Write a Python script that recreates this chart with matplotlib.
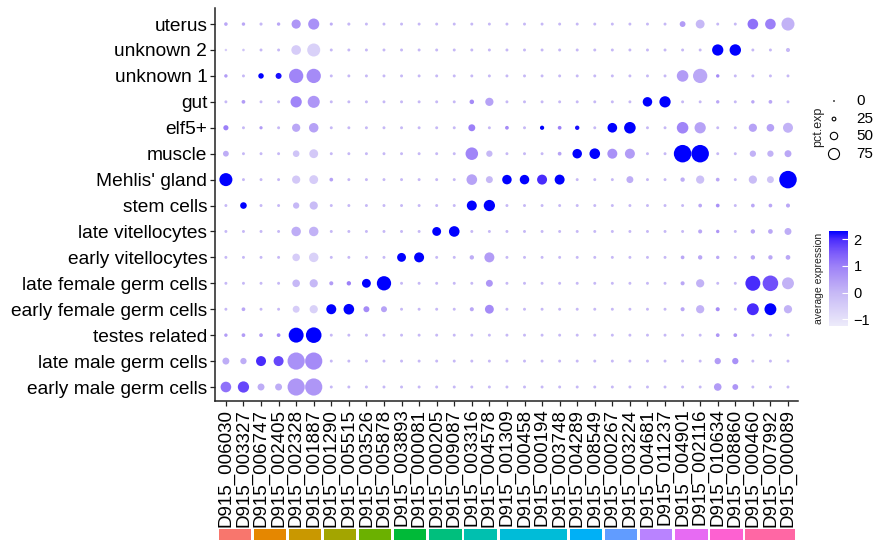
import matplotlib
matplotlib.use("Agg")
import matplotlib.pyplot as plt
import numpy as np
from matplotlib.colors import LinearSegmentedColormap, Normalize
from matplotlib.patches import Rectangle
from matplotlib.cm import ScalarMappable

plt.rcParams['font.family'] = ['Liberation Sans', 'DejaVu Sans']

genes = ["D915_006030", "D915_003327", "D915_006747", "D915_002405", "D915_002328",
         "D915_001887", "D915_001290", "D915_005515", "D915_003526", "D915_005878",
         "D915_003893", "D915_000081", "D915_000205", "D915_009087", "D915_003316",
         "D915_004578", "D915_001309", "D915_000458", "D915_000194", "D915_003748",
         "D915_004289", "D915_008549", "D915_000267", "D915_003224", "D915_004681",
         "D915_011237", "D915_004901", "D915_002116", "D915_010634", "D915_008860",
         "D915_000460", "D915_007992", "D915_000089"]

# bottom -> top
cell_types = ["early male germ cells", "late male germ cells", "testes related",
              "early female germ cells", "late female germ cells", "early vitellocytes",
              "late vitellocytes", "stem cells", "Mehlis' gland", "muscle", "elf5+",
              "gut", "unknown 1", "unknown 2", "uterus"]

# number of marker genes per cell type (same order as cell_types)
group_sizes = [2, 2, 2, 2, 2, 2, 2, 2, 4, 2, 2, 2, 2, 2, 3]
group_colors = ["#F8766D", "#E58700", "#C99800", "#A3A500", "#6BB100", "#00BA38",
                "#00BF7D", "#00C0AF", "#00BCD8", "#00B0F6", "#619CFF", "#B983FF",
                "#E76BF3", "#FD61D1", "#FF67A4"]

# percent expressed, one list per cell type
em_pct = [57, 61, 34, 34, 98, 98, 9, 9, 9, 9, 9, 9, 9, 9, 9, 9, 9, 9, 9, 9, 9, 9, 9, 9, 9, 9, 9, 9, 38, 27, 9, 9, 9]
lm_pct = [34, 30, 53, 53, 98, 98, 9, 9, 9, 9, 9, 9, 9, 9, 9, 9, 9, 9, 9, 9, 9, 9, 9, 9, 9, 9, 9, 9, 30, 30, 9, 9, 9]
te_pct = [12, 14, 14, 14, 84, 88, 9, 9, 9, 9, 9, 9, 9, 9, 9, 9, 9, 9, 9, 9, 9, 9, 9, 9, 9, 9, 9, 9, 14, 14, 9, 9, 9]
ef_pct = [9, 14, 9, 9, 34, 42, 53, 57, 28, 28, 9, 9, 9, 9, 16, 46, 9, 9, 9, 9, 9, 9, 9, 9, 9, 9, 16, 42, 16, 9, 65, 65, 42]
lf_pct = [9, 9, 9, 9, 38, 42, 16, 18, 46, 80, 9, 9, 9, 9, 9, 34, 9, 9, 9, 9, 9, 9, 9, 9, 9, 9, 16, 42, 9, 9, 84, 88, 65]
ev_pct = [9, 9, 9, 9, 38, 50, 9, 9, 9, 9, 46, 53, 9, 9, 18, 53, 9, 9, 9, 9, 9, 9, 9, 9, 9, 9, 14, 18, 12, 9, 18, 18, 20]
lv_pct = [9, 9, 9, 9, 50, 50, 9, 9, 9, 9, 9, 9, 46, 57, 9, 9, 9, 9, 9, 9, 9, 9, 9, 9, 9, 9, 9, 16, 12, 9, 18, 20, 34]
st_pct = [9, 32, 9, 9, 30, 42, 9, 9, 9, 9, 9, 9, 9, 9, 53, 61, 9, 9, 9, 9, 9, 9, 9, 9, 9, 9, 9, 14, 14, 9, 14, 14, 16]
mg_pct = [72, 9, 9, 9, 42, 46, 14, 9, 9, 9, 9, 9, 9, 9, 57, 34, 50, 50, 53, 53, 9, 9, 9, 34, 9, 9, 18, 42, 14, 9, 42, 34, 100]
mu_pct = [27, 9, 9, 9, 32, 46, 9, 9, 9, 9, 9, 9, 9, 9, 69, 30, 9, 9, 9, 14, 50, 57, 53, 53, 9, 9, 100, 100, 9, 9, 30, 30, 34]
el_pct = [23, 9, 11, 9, 42, 50, 9, 9, 9, 9, 9, 9, 9, 9, 34, 9, 14, 9, 17, 14, 18, 9, 51, 63, 9, 9, 63, 61, 9, 9, 42, 38, 53]
gu_pct = [9, 14, 9, 9, 61, 66, 9, 9, 9, 9, 9, 9, 9, 9, 19, 42, 9, 9, 9, 9, 9, 9, 9, 9, 50, 61, 9, 9, 12, 9, 12, 14, 9]
u1_pct = [12, 9, 25, 28, 80, 80, 9, 9, 9, 9, 9, 9, 9, 9, 9, 9, 9, 9, 9, 9, 9, 9, 9, 9, 9, 9, 63, 80, 12, 9, 9, 9, 9]
u2_pct = [6, 7, 9, 9, 51, 72, 9, 9, 9, 9, 9, 9, 9, 9, 9, 9, 9, 9, 9, 9, 9, 9, 9, 9, 9, 9, 9, 9, 61, 62, 9, 9, 16]
ut_pct = [13, 12, 10, 12, 48, 60, 10, 10, 9, 9, 9, 9, 9, 9, 9, 9, 9, 9, 9, 9, 9, 9, 9, 9, 9, 9, 27, 46, 9, 9, 57, 57, 72]

# average (scaled) expression, one list per cell type
em_avg = [1.2, 1.7, 0.2, 0.2, 0.6, 0.6, 0, 0, 0, 0, 0, 0, 0, 0, 0, 0, 0, 0, 0, 0, 0, 0, 0, 0, 0, 0, 0, 0, 0.5, 0.6, 0, 0, 0]
lm_avg = [0.2, 0.2, 2.0, 1.7, 0.7, 0.8, 0, 0, 0, 0, 0, 0, 0, 0, 0, 0, 0, 0, 0, 0, 0, 0, 0, 0, 0, 0, 0, 0, 0.5, 0.7, 0, 0, 0]
te_avg = [0.5, 0.5, 0.5, 0.8, 2.3, 2.3, 0, 0, 0, 0, 0, 0, 0, 0, 0, 0, 0, 0, 0, 0, 0, 0, 0, 0, 0, 0, 0, 0, 0.6, 0.6, 0, 0, 0]
ef_avg = [0, 0.3, 0, 0, -0.5, -0.6, 2.3, 2.3, 0.8, 0.4, 0, 0, 0, 0, 0.3, 0.8, 0, 0, 0, 0, 0, 0, 0, 0, 0, 0, 0.3, 0.1, 0.8, 0, 2.0, 2.3, 0.1]
lf_avg = [0, 0, 0, 0, 0, 0, 0.5, 1.0, 2.3, 2.3, 0, 0, 0, 0, 0, 0.6, 0, 0, 0, 0, 0, 0, 0, 0, 0, 0, 0.3, 0.1, 0, 0, 2.0, 1.6, 0.1]
ev_avg = [0, 0, 0, 0, -0.5, -0.6, 0, 0, 0, 0, 2.3, 2.3, 0, 0, 0.2, 0.5, 0, 0, 0, 0, 0, 0, 0, 0, 0, 0, 0.3, 0.3, 0.3, 0, 0.3, 0.3, 0.3]
lv_avg = [0, 0, 0, 0, 0.2, 0.1, 0, 0, 0, 0, 0, 0, 2.3, 2.3, 0, 0, 0, 0, 0, 0, 0, 0, 0, 0, 0, 0, 0, 0.3, 0.6, 0, 0.3, 0.3, 0.2]
st_avg = [0, 2.3, 0, 0, 0, -0.1, 0, 0, 0, 0, 0, 0, 0, 0, 2.3, 2.3, 0, 0, 0, 0, 0, 0, 0, 0, 0, 0, 0, 0.3, 0.7, 0, 0.3, 0.3, 0.3]
mg_avg = [2.3, 0, 0, 0, -0.4, -0.5, 0.4, 0, 0, 0, 0, 0, 0, 0, 0.4, 0.0, 2.3, 2.3, 2.0, 2.3, 0, 0, 0, 0.2, 0, 0, 0.2, -0.2, 0.3, 0, -0.1, -0.3, 2.3]
mu_avg = [0.2, 0, 0, 0, -0.3, -0.4, 0, 0, 0, 0, 0, 0, 0, 0, 0.9, 0.0, 0, 0, 0, 0.4, 2.3, 2.3, 0.7, 0.5, 0, 0, 2.3, 2.3, 0, 0, 0.1, 0.1, 0.3]
el_avg = [1.0, 0, 0.5, 0, 0.3, 0.4, 0, 0, 0, 0, 0, 0, 0, 0, 1.0, 0, 0.8, 0, 2.3, 1.0, 2.2, 0, 2.3, 2.3, 0, 0, 0.9, 0.4, 0, 0, 0.4, 0.4, 0.1]
gu_avg = [0, 0.5, 0, 0, 0.9, 0.6, 0, 0, 0, 0, 0, 0, 0, 0, 0.8, 0.4, 0, 0, 0, 0, 0, 0, 0, 0, 2.3, 2.3, 0, 0, 0.3, 0, 0.3, 0.3, 0]
u1_avg = [0.5, 0, 2.3, 2.2, 0.9, 0.8, 0, 0, 0, 0, 0, 0, 0, 0, 0, 0, 0, 0, 0, 0, 0, 0, 0, 0, 0, 0, 0.5, 0.3, 0.8, 0, 0, 0, 0]
u2_avg = [-0.5, -0.3, 0, 0, -0.5, -0.6, 0, 0, 0, 0, 0, 0, 0, 0, 0, 0, 0, 0, 0, 0, 0, 0, 0, 0, 0, 0, 0, 0, 2.3, 2.3, 0, 0, 0.0]
ut_avg = [0.3, 0.3, 0, 0.3, 0.6, 0.7, 0.2, 0, 0, 0, 0, 0, 0, 0, 0, 0, 0, 0, 0, 0, 0, 0, 0, 0, 0, 0, 0.5, 0.0, 0, 0, 1.2, 1.0, 0.1]

pct_rows = [em_pct, lm_pct, te_pct, ef_pct, lf_pct, ev_pct, lv_pct, st_pct,
            mg_pct, mu_pct, el_pct, gu_pct, u1_pct, u2_pct, ut_pct]
avg_rows = [em_avg, lm_avg, te_avg, ef_avg, lf_avg, ev_avg, lv_avg, st_avg,
            mg_avg, mu_avg, el_avg, gu_avg, u1_avg, u2_avg, ut_avg]

size_breaks = [0, 25, 50, 75]
cbar_ticks = [-1, 0, 1, 2]

# ---------------- styling ----------------
W, H = 873, 540
fig = plt.figure(figsize=(W / 100, H / 100), dpi=100)


def px_rect(l, t, r, b):
    return [l / W, 1 - b / H, (r - l) / W, (b - t) / H]


VMIN, VMAX = -1.25, 2.3
stops = [(-1.25, "#EDEBFA"), (0.0, "#C6B8F6"), (0.5, "#B29CF6"), (1.0, "#9C80F8"),
         (1.5, "#7B5AFA"), (2.0, "#4A2CFC"), (2.3, "#0000FF")]
cmap = LinearSegmentedColormap.from_list(
    "expr", [((v - VMIN) / (VMAX - VMIN), c) for v, c in stops])
norm = Normalize(VMIN, VMAX)


def pct_to_s(p, base=1.5):
    # ggplot-like: radius scales with pct, plus a small stroke-width base
    d = base + np.asarray(p, dtype=float) / 100.0 * 16.0
    return (d * 0.72) ** 2


ax = fig.add_axes(px_rect(215, 8, 798, 401))
pct = np.array(pct_rows, dtype=float)
avg = np.array(avg_rows, dtype=float)
ny, nx = pct.shape
xx, yy = np.meshgrid(np.arange(nx), np.arange(ny))
ax.scatter(xx.ravel(), yy.ravel(), s=pct_to_s(pct.ravel()), c=avg.ravel(),
           cmap=cmap, norm=norm, edgecolors="none", zorder=3)
ax.set_xlim(-0.62, nx - 1 + 0.57)
ax.set_ylim(-0.54, ny - 1 + 0.62)
ax.set_xticks(np.arange(nx))
ax.set_xticklabels(genes, rotation=90, fontsize=13.5)
ax.set_yticks(np.arange(ny))
ax.set_yticklabels(cell_types, fontsize=13.8)
for sp in ["top", "right"]:
    ax.spines[sp].set_visible(False)
for sp in ["left", "bottom"]:
    ax.spines[sp].set_linewidth(1.1)
    ax.spines[sp].set_color("#222222")
ax.tick_params(axis="both", length=3.5, width=0.9, color="#222222", pad=2,
               labelcolor="black")

# colour bars under genes
bax = fig.add_axes(px_rect(215, 529, 798, 541))
bax.set_xlim(ax.get_xlim())
bax.set_ylim(0, 1)
bax.axis("off")
start = 0
for size, col in zip(group_sizes, group_colors):
    bax.add_patch(Rectangle((start - 0.42, 0), size - 1 + 0.84, 1,
                            facecolor=col, edgecolor="none"))
    start += size

# legends (pixel coordinate overlay)
lax = fig.add_axes([0, 0, 1, 1], facecolor="none")
lax.set_xlim(0, W)
lax.set_ylim(H, 0)
lax.axis("off")

leg_y = [101, 119, 136, 154]
for val, y in zip(size_breaks, leg_y):
    if val == 0:
        lax.scatter([834], [y], s=1.5, color="black", edgecolors="none")
    else:
        lax.scatter([834], [y], s=pct_to_s(val, base=0.0) * 0.85, facecolors="none",
                    edgecolors="black", linewidths=0.8)
    lax.text(856, y, str(val), fontsize=11, va="center", ha="left")
lax.text(818, 127, "pct.exp", rotation=90, fontsize=9, va="center", ha="center",
         color="#222222")

cax = fig.add_axes(px_rect(829, 231, 848, 326))
cb = fig.colorbar(ScalarMappable(norm=norm, cmap=cmap), cax=cax, ticks=cbar_ticks)
cb.outline.set_visible(False)
cb.ax.set_yticklabels(["\u22121" if t < 0 else str(t) for t in cbar_ticks])
cb.ax.tick_params(direction="in", color="white", length=4, width=0.8,
                  labelsize=10.5, pad=4)
lax.text(819, 278, "average expression", rotation=90, fontsize=7.5,
         va="center", ha="center", color="#222222")

fig.savefig("out.png", dpi=100)
